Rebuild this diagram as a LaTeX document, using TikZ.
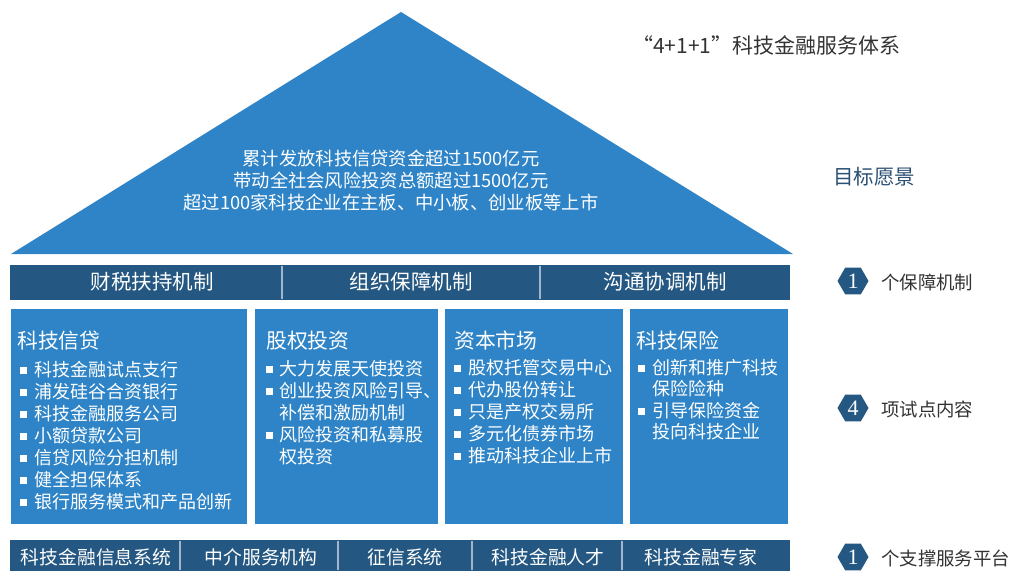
\documentclass[tikz,border=0pt]{standalone}
\usepackage{fontspec}
\setmainfont{Noto Sans CJK SC}
\newfontfamily\serifnum{Liberation Serif}
\usetikzlibrary{shapes.geometric}
\definecolor{lightblue}{HTML}{2E84C6}
\definecolor{darkblue}{HTML}{245781}
\definecolor{divline}{HTML}{9FB6CC}
\definecolor{labelgray}{HTML}{333333}
\definecolor{goalblue}{HTML}{2B4F72}
\tikzset{
  barbox/.style={fill=darkblue, draw=none, anchor=north west, inner sep=0pt},
  itembox/.style={fill=lightblue, draw=none, anchor=north west, inner sep=0pt},
  bartext/.style={text=white, font=\fontsize{20.5}{20.5}\selectfont, inner sep=0pt},
  bottext/.style={text=white, font=\fontsize{18.8}{18.8}\selectfont, inner sep=0pt},
  titletext/.style={text=white, font=\fontsize{20.8}{20.8}\selectfont, anchor=west, inner sep=0pt},
  itemtext/.style={text=white, font=\fontsize{18}{18}\selectfont, anchor=west, inner sep=0pt},
  bulletmark/.style={fill=white, draw=none, minimum size=7pt, inner sep=0pt, anchor=west},
  divider/.style={draw=divline, line width=1.5pt},
  badge/.style={regular polygon, regular polygon sides=6, fill=darkblue, draw=none, minimum size=31pt, inner sep=0pt, text=white},
  sidetext/.style={text=labelgray, font=\fontsize{18.4}{18.4}\selectfont, anchor=west, inner sep=0pt},
  numtext/.style={text=white, font=\serifnum\fontsize{22}{22}\selectfont, inner sep=0pt},
}
\begin{document}
\begin{tikzpicture}[x=1pt, y=-1pt]
\useasboundingbox (0,0) rectangle (1014,570);
% triangle
\coordinate (apex) at (401,12);
\coordinate (bl) at (11,254);
\coordinate (br) at (793,254);
\fill[lightblue] (apex) -- (br) -- (bl) -- cycle;
\node[text=white, font=\fontsize{18.3}{22}\selectfont, align=center, inner sep=0pt] (goal) at (391,180)
  {累计发放科技信贷资金超过1500亿元\\带动全社会风险投资总额超过1500亿元\\超过100家科技企业在主板、中小板、创业板等上市};
% top bar
\node[barbox, minimum width=780pt, minimum height=35pt] (topbar) at (10,265) {};
\draw[divider] (282,266) coordinate (td1a) -- (282,299) coordinate (td1b);
\draw[divider] (540,266) coordinate (td2a) -- (540,299) coordinate (td2b);
\node[bartext] (m1) at (152,282) {财税扶持机制};
\node[bartext] (m2) at (411,282) {组织保障机制};
\node[bartext] (m3) at (665,282) {沟通协调机制};
% four boxes
\node[itembox, minimum width=236pt, minimum height=215pt] (b1) at (11,309) {};
\node[itembox, minimum width=183pt, minimum height=215pt] (b2) at (255,309) {};
\node[itembox, minimum width=178pt, minimum height=215pt] (b3) at (445,309) {};
\node[itembox, minimum width=158pt, minimum height=215pt] (b4) at (630,309) {};
% box1
\node[titletext] (t1) at (17,341) {科技信贷};
\foreach \y/\t [count=\i] in {370/科技金融试点支行,392/浦发硅谷合资银行,414/科技金融服务公司,436/小额贷款公司,458/信贷风险分担机制,480/健全担保体系,502/银行服务模式和产品创新}{
  \node[bulletmark] (b1m\i) at (20,\y) {};
  \node[itemtext] (b1t\i) at (34,\y) {\t};
}
% box2
\node[titletext] (t2) at (266,341) {股权投资};
\node[bulletmark] (b2m1) at (266,369) {};
\node[itemtext] (b2t1) at (279,369) {大力发展天使投资};
\node[bulletmark] (b2m2) at (266,391) {};
\node[itemtext] (b2t2) at (279,391) {创业投资风险引导、};
\node[itemtext] (b2t2b) at (279,413) {补偿和激励机制};
\node[bulletmark] (b2m3) at (266,435) {};
\node[itemtext] (b2t3) at (279,435) {风险投资和私募股};
\node[itemtext] (b2t3b) at (279,457) {权投资};
% box3
\node[titletext] (t3) at (454,341) {资本市场};
\foreach \y/\t [count=\i] in {368/股权托管交易中心,390/代办股份转让,412/只是产权交易所,434/多元化债券市场,456/推动科技企业上市}{
  \node[bulletmark] (b3m\i) at (454,\y) {};
  \node[itemtext] (b3t\i) at (468,\y) {\t};
}
% box4
\node[titletext] (t4) at (636,341) {科技保险};
\node[bulletmark] (b4m1) at (638,368) {};
\node[itemtext] (b4t1) at (652,368) {创新和推广科技};
\node[itemtext] (b4t1b) at (652,389) {保险险种};
\node[bulletmark] (b4m2) at (638,411) {};
\node[itemtext] (b4t2) at (652,411) {引导保险资金};
\node[itemtext] (b4t2b) at (652,432) {投向科技企业};
% bottom bar
\node[barbox, minimum width=780pt, minimum height=32pt] (botbar) at (10,540) {};
\draw[divider] (180,541) -- (180,570);
\draw[divider] (338,541) -- (338,570);
\draw[divider] (472,541) -- (472,570);
\draw[divider] (622,541) -- (622,570);
\node[bottext] (p1) at (96,557) {科技金融信息系统};
\node[bottext] (p2) at (261,557) {中介服务机构};
\node[bottext] (p3) at (405,557) {征信系统};
\node[bottext] (p4) at (548,557) {科技金融人才};
\node[bottext] (p5) at (701,557) {科技金融专家};
% right side labels
\node[text=labelgray, font=\fontsize{21}{21}\selectfont, anchor=west, inner sep=0pt] (heading) at (632,45) {“4+1+1”科技金融服务体系};
\node[text=goalblue, font=\fontsize{20.5}{20.5}\selectfont, anchor=west, inner sep=0pt] (goallabel) at (833,177) {目标愿景};
\node[badge] (hx1) at (853,281) {};
\node[numtext] (n1) at (hx1) {1};
\node[sidetext] (s1) at (881,282) {个保障机制};
\node[badge] (hx2) at (853,408) {};
\node[numtext] (n2) at (hx2) {4};
\node[sidetext] (s2) at (881,409) {项试点内容};
\node[badge] (hx3) at (853,557) {};
\node[numtext] (n3) at (hx3) {1};
\node[sidetext] (s3) at (881,558) {个支撑服务平台};
\end{tikzpicture}
\end{document}
